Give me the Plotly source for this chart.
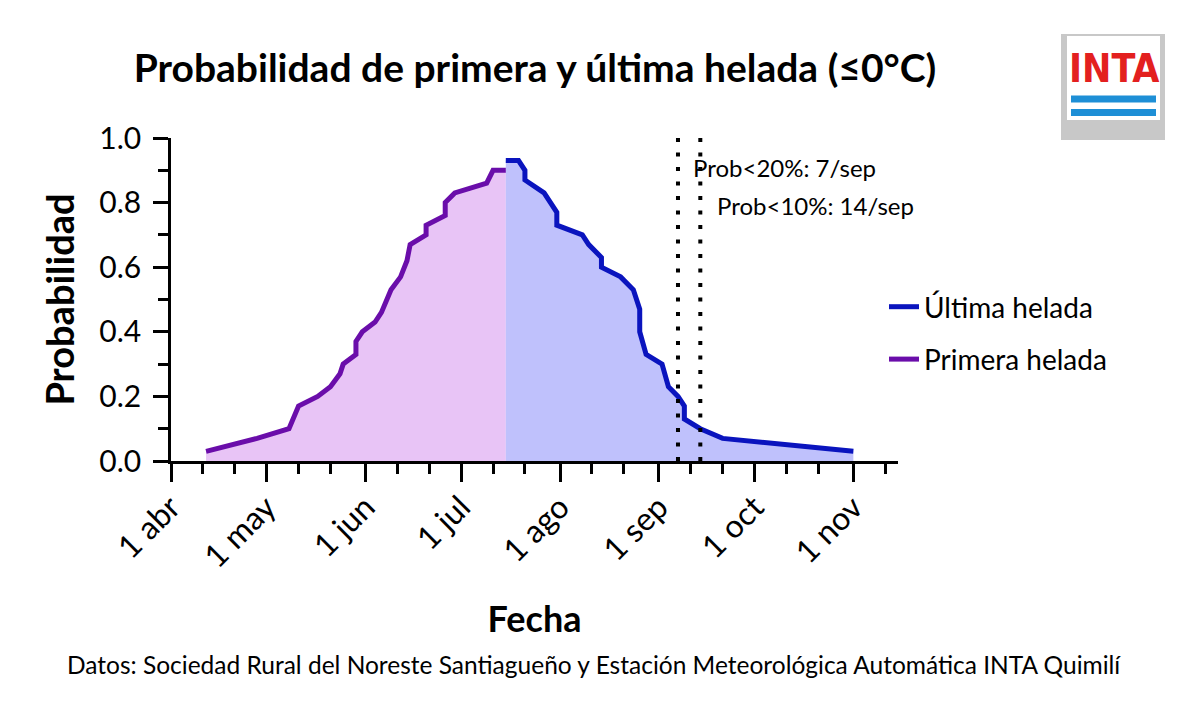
import plotly.graph_objects as go

# ---------------- data ----------------
primera_fechas = ["2021-04-12", "2021-04-28", "2021-05-08", "2021-05-11", "2021-05-17",
                  "2021-05-21", "2021-05-24", "2021-05-25", "2021-05-29", "2021-05-29",
                  "2021-05-31", "2021-06-04", "2021-06-06", "2021-06-09", "2021-06-12",
                  "2021-06-14", "2021-06-15", "2021-06-20", "2021-06-20", "2021-06-26",
                  "2021-06-26", "2021-06-29", "2021-07-09", "2021-07-11", "2021-07-15"]
primera_prob = [0.03, 0.07, 0.10, 0.17, 0.20,
                0.23, 0.27, 0.30, 0.33, 0.37,
                0.40, 0.43, 0.46, 0.53, 0.57,
                0.62, 0.67, 0.70, 0.73, 0.76,
                0.80, 0.83, 0.86, 0.90, 0.90]

ultima_fechas = ["2021-07-15", "2021-07-19", "2021-07-21", "2021-07-21", "2021-07-27",
                 "2021-07-31", "2021-07-31", "2021-08-08", "2021-08-10", "2021-08-14",
                 "2021-08-14", "2021-08-20", "2021-08-24", "2021-08-26", "2021-08-26",
                 "2021-08-28", "2021-09-02", "2021-09-04", "2021-09-07", "2021-09-09",
                 "2021-09-09", "2021-09-14", "2021-09-21", "2021-11-01"]
ultima_prob = [0.93, 0.93, 0.90, 0.87, 0.83,
               0.77, 0.73, 0.70, 0.67, 0.63,
               0.60, 0.57, 0.53, 0.47, 0.40,
               0.33, 0.30, 0.23, 0.20, 0.17,
               0.13, 0.10, 0.07, 0.03]

umbral_fechas = ["2021-09-07", "2021-09-14"]
umbral_textos = ["Prob<20%: 7/sep", "Prob<10%: 14/sep"]

mes_ticks = ["2021-04-01", "2021-05-01", "2021-06-01", "2021-07-01",
             "2021-08-01", "2021-09-01", "2021-10-01", "2021-11-01"]
mes_labels = ["1 abr", "1 may", "1 jun", "1 jul", "1 ago", "1 sep", "1 oct", "1 nov"]
minor_ticks = [f"2021-{m:02d}-{d}" for m in range(4, 12) for d in (11, 21) if not (m == 11 and d == 21)]

y_ticks = [0, 0.2, 0.4, 0.6, 0.8, 1.0]
y_labels = ["0.0", "0.2", "0.4", "0.6", "0.8", "1.0"]

FONT = "Lato"
OFF = 8  # page offset of the figure inside the browser window

# plot area in screenshot pixels
L, R, T, B = 171, 898, 138, 461
def px(xp): return (xp - L) / (R - L)
def py(yp): return (B - yp) / (B - T)

fig = go.Figure()
# filled areas (no legend)
fig.add_trace(go.Scatter(
    x=primera_fechas, y=primera_prob, mode="lines", showlegend=False, hoverinfo="skip",
    line=dict(width=0, color="#E8C4F6"), fill="tozeroy", fillcolor="#E8C4F6"))
fig.add_trace(go.Scatter(
    x=ultima_fechas, y=ultima_prob, mode="lines", showlegend=False, hoverinfo="skip",
    line=dict(width=0, color="#BFC1FC"), fill="tozeroy", fillcolor="#BFC1FC"))
# lines (with legend)
fig.add_trace(go.Scatter(
    x=primera_fechas, y=primera_prob, mode="lines", name="Primera helada",
    line=dict(color="#6A0DAA", width=5), legendrank=2, legendgroup="p"))
fig.add_trace(go.Scatter(
    x=ultima_fechas, y=ultima_prob, mode="lines", name="Última helada",
    line=dict(color="#0A14BE", width=5), legendrank=1, legendgroup="u"))

for f in umbral_fechas:
    fig.add_shape(type="line", xref="x", yref="y", x0=f, x1=f, y0=0, y1=1,
                  line=dict(color="black", width=4, dash="4px,10.5px"))

fig.add_annotation(x=umbral_fechas[0], y=0.91, xref="x", yref="y", text=umbral_textos[0],
                   showarrow=False, xanchor="left", xshift=13,
                   font=dict(family=FONT, size=24, color="black"))
fig.add_annotation(x=umbral_fechas[1], y=0.79, xref="x", yref="y", text=umbral_textos[1],
                   showarrow=False, xanchor="left", xshift=15,
                   font=dict(family=FONT, size=24, color="black"))

# footer
fig.add_annotation(x=px(594), y=py(664), xref="paper", yref="paper",
                   text="Datos: Sociedad Rural del Noreste Santiagueño y Estación Meteorológica Automática INTA Quimilí",
                   showarrow=False, xanchor="center", yanchor="middle",
                   font=dict(family=FONT, size=24.5, color="black"))

# INTA logo
fig.add_shape(type="rect", xref="paper", yref="paper", x0=px(1061), x1=px(1165), y0=py(140), y1=py(34),
              fillcolor="#C8C8C8", line=dict(width=0), layer="above")
fig.add_shape(type="rect", xref="paper", yref="paper", x0=px(1067), x1=px(1160), y0=py(120), y1=py(36),
              fillcolor="white", line=dict(width=0), layer="above")
fig.add_shape(type="rect", xref="paper", yref="paper", x0=px(1071), x1=px(1156), y0=py(102.5), y1=py(95.5),
              fillcolor="#1E8FD6", line=dict(width=0), layer="above")
fig.add_shape(type="rect", xref="paper", yref="paper", x0=px(1071), x1=px(1156), y0=py(116), y1=py(109),
              fillcolor="#1E8FD6", line=dict(width=0), layer="above")
fig.add_annotation(x=px(1113.5), y=py(69), xref="paper", yref="paper", text="<b>INTA</b>",
                   showarrow=False, xanchor="center", yanchor="middle",
                   font=dict(family="Liberation Sans Narrow, DejaVu Sans Condensed", size=39, color="#E3201F"))

axis_common = dict(showline=True, linecolor="black", linewidth=2.5, ticks="outside",
                   tickcolor="black", tickwidth=2.5, showgrid=False, zeroline=False,
                   automargin=False)

fig.update_layout(
    width=1200, height=715,
    margin=dict(l=L - OFF, r=1200 - (R - OFF), t=T - OFF, b=715 - (B - OFF), autoexpand=False),
    paper_bgcolor="white", plot_bgcolor="white",
    font=dict(family=FONT, color="black"),
    title=dict(text="<b>Probabilidad de primera y última helada (≤0°C)</b>",
               x=(535 - OFF) / 1200, xanchor="center", y=1 - (68 - OFF) / 715, yanchor="middle",
               font=dict(family=FONT, size=39, color="black")),
    xaxis=dict(**axis_common, range=["2021-04-01", "2021-11-15"], type="date",
               tickmode="array", tickvals=mes_ticks, ticktext=mes_labels, ticklen=18,
               tickangle=-45, ticklabelstandoff=-6,
               tickfont=dict(family=FONT, size=32, color="black"),
               minor=dict(tickmode="array", tickvals=minor_ticks, ticklen=10, tickwidth=2.5,
                          tickcolor="black", ticks="outside", showgrid=False),
               title=dict(text="<b>Fecha</b>", font=dict(family=FONT, size=36, color="black"),
                          standoff=34)),
    yaxis=dict(**axis_common, range=[0, 1], tickmode="array", tickvals=y_ticks, ticktext=y_labels,
               ticklen=15, ticklabelstandoff=6,
               tickfont=dict(family=FONT, size=30, color="black"),
               minor=dict(dtick=0.1, ticklen=10, tickwidth=2.5, tickcolor="black", ticks="outside",
                          showgrid=False),
               title=dict(text="<b>Probabilidad</b>", font=dict(family=FONT, size=38, color="black"),
                          standoff=14)),
    legend=dict(x=px(884), xanchor="left", y=py(282), yanchor="top",
                font=dict(family=FONT, size=28, color="black"), tracegroupgap=13,
                bgcolor="rgba(0,0,0,0)"),
)

fig.write_html("out.html")
